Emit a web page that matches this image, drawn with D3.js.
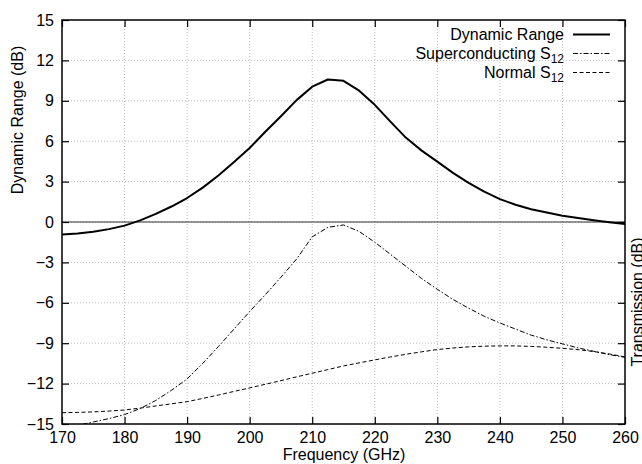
<!DOCTYPE html>
<html>
<head>
<meta charset="utf-8">
<script src="https://cdn.jsdelivr.net/npm/d3@7"></script>
<style>
	body { margin: 0; background: #fff; }
	text { font-family: "Liberation Sans", Arial, Helvetica, sans-serif; }
</style>
</head>
<body>
<svg id="chart" width="642" height="464"></svg>
<script>
"use strict";

// frequencies in GHz, every 2.5
var freqs = d3.range(170, 260.01, 2.5);

var dynamicRange = [-0.92, -0.85, -0.72, -0.53, -0.27, 0.12, 0.6, 1.15, 1.78, 2.55,
	3.45, 4.45, 5.5, 6.7, 7.85, 9.05, 10.05, 10.58, 10.48, 9.75,
	8.7, 7.45, 6.25, 5.3, 4.48, 3.65, 2.9, 2.25, 1.7, 1.28,
	0.95, 0.7, 0.47, 0.3, 0.13, -0.02, -0.15];

var superS12 = [-15.35, -15.1, -14.85, -14.6, -14.3, -13.85, -13.25, -12.5, -11.65, -10.5,
	-9.25, -7.95, -6.65, -5.4, -4.1, -2.75, -1.1, -0.4, -0.22, -0.7,
	-1.5, -2.4, -3.3, -4.2, -5.0, -5.75, -6.4, -7.0, -7.5, -7.95,
	-8.4, -8.75, -9.05, -9.35, -9.6, -9.85, -10.05];

var normalS12 = [-14.16, -14.14, -14.1, -14.04, -13.96, -13.82, -13.66, -13.5, -13.34, -13.1,
	-12.85, -12.58, -12.32, -12.05, -11.78, -11.5, -11.23, -10.96, -10.69, -10.46,
	-10.24, -10.02, -9.82, -9.64, -9.47, -9.36, -9.27, -9.22, -9.2, -9.2,
	-9.24, -9.3, -9.38, -9.48, -9.62, -9.8, -10.02];

var xTicks = [170, 180, 190, 200, 210, 220, 230, 240, 250, 260];
var yTicks = [-15, -12, -9, -6, -3, 0, 3, 6, 9, 12, 15];

var series = [
	{name: "Dynamic Range", sub: "", values: dynamicRange, width: 2, dash: null},
	{name: "Superconducting S", sub: "12", values: superS12, width: 1, dash: "5,2,1.5,2"},
	{name: "Normal S", sub: "12", values: normalS12, width: 1, dash: "4,2.5"}
];

var L = 62, R = 625, T = 20, B = 424;
var svg = d3.select('#chart');

var x = d3.scaleLinear().domain([170, 260]).range([L, R]);
var y = d3.scaleLinear().domain([-15, 15]).range([B, T]);

// grid
var grid = svg.append('g').attr('stroke', '#bdbdbd').attr('stroke-width', 1).attr('stroke-dasharray', '1,2');
grid.selectAll('.gx').data(xTicks.slice(1, -1)).enter().append('line')
	.attr('x1', function(d){ return x(d); }).attr('x2', function(d){ return x(d); })
	.attr('y1', T).attr('y2', B);
grid.selectAll('.gy').data(yTicks.slice(1, -1)).enter().append('line')
	.attr('x1', L).attr('x2', R)
	.attr('y1', function(d){ return y(d); }).attr('y2', function(d){ return y(d); });

// zero line
svg.append('line')
	.attr('x1', L).attr('x2', R).attr('y1', y(0)).attr('y2', y(0))
	.attr('stroke', '#333').attr('stroke-width', 1.2);

// axes, ticks pointing inward
function styleAxis(g) {
	g.select('.domain').remove();
	g.selectAll('line').attr('stroke', '#000').attr('stroke-width', 1.2);
	g.selectAll('text').attr('font-size', 16).attr('fill', '#000')
		.style('font-family', '"Liberation Sans", Arial, sans-serif');
}
svg.append('g').attr('transform', 'translate(0,' + B + ')')
	.call(d3.axisBottom(x).tickValues(xTicks).tickSize(-7).tickPadding(8))
	.call(styleAxis);
svg.append('g').attr('transform', 'translate(0,' + T + ')')
	.call(d3.axisTop(x).tickValues(xTicks).tickSize(-7).tickFormat(''))
	.call(styleAxis);
svg.append('g').attr('transform', 'translate(' + L + ',0)')
	.call(d3.axisLeft(y).tickValues(yTicks).tickSize(-7).tickPadding(8))
	.call(styleAxis);
svg.append('g').attr('transform', 'translate(' + R + ',0)')
	.call(d3.axisRight(y).tickValues(yTicks).tickSize(-7).tickFormat(''))
	.call(styleAxis);

// clip for the curves
svg.append('clipPath').attr('id', 'plotClip').append('rect')
	.attr('x', L).attr('y', T).attr('width', R - L).attr('height', B - T);

var line = d3.line()
	.x(function(d, i){ return x(freqs[i]); })
	.y(function(d){ return y(d); });

svg.append('g').attr('clip-path', 'url(#plotClip)')
	.selectAll('path').data(series.slice().reverse()).enter().append('path')
	.attr('d', function(s){ return line(s.values); })
	.attr('fill', 'none')
	.attr('stroke', '#000')
	.attr('stroke-width', function(s){ return s.width; })
	.attr('stroke-dasharray', function(s){ return s.dash; })
	.attr('stroke-linejoin', 'round');

// frame
svg.append('rect')
	.attr('x', L).attr('y', T).attr('width', R - L).attr('height', B - T)
	.attr('fill', 'none').attr('stroke', '#000').attr('stroke-width', 1.5);

// legend
var leg = svg.append('g');
series.forEach(function(s, i) {
	var yy = 34.5 + i * 19;
	var t = leg.append('text')
		.attr('x', 564).attr('y', yy + 5)
		.attr('text-anchor', 'end')
		.attr('font-size', 16);
	t.append('tspan').text(s.name);
	if (s.sub) {
		t.append('tspan').attr('font-size', 12).attr('dy', 4).text(s.sub);
	}
	leg.append('line')
		.attr('x1', 573).attr('x2', 610).attr('y1', yy).attr('y2', yy)
		.attr('stroke', '#000')
		.attr('stroke-width', s.width)
		.attr('stroke-dasharray', s.dash);
});

// titles (the right one runs off the edge, as in the original)
svg.append('text')
	.attr('transform', 'translate(23,120) rotate(-90)')
	.attr('text-anchor', 'middle').attr('font-size', 16)
	.text('Dynamic Range (dB)');
svg.append('text')
	.attr('transform', 'translate(643,302) rotate(-90)')
	.attr('text-anchor', 'middle').attr('font-size', 16)
	.text('Transmission (dB)');
svg.append('text')
	.attr('x', 344).attr('y', 460)
	.attr('text-anchor', 'middle').attr('font-size', 16)
	.text('Frequency (GHz)');
</script>
</body>
</html>
